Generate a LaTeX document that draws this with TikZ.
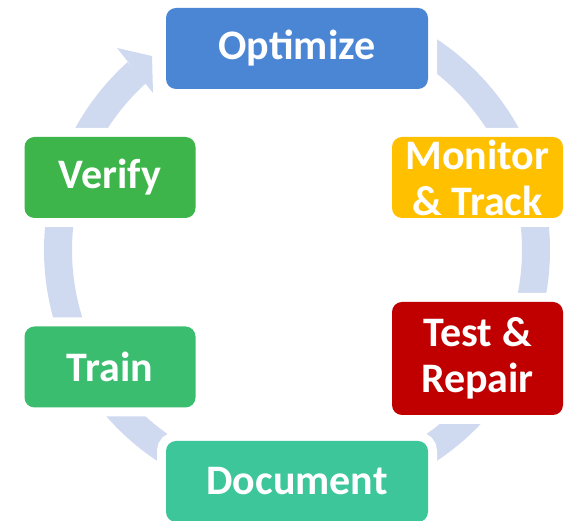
\documentclass[tikz,border=0pt]{standalone}
\usepackage{fontspec}
\setmainfont{Carlito}
\usepackage{tikz}
\definecolor{anneau}{RGB}{207,217,240}
\definecolor{bleu}{RGB}{74,134,212}
\definecolor{jaune}{RGB}{255,192,0}
\definecolor{rouge}{RGB}{192,0,0}
\definecolor{vertA}{RGB}{61,181,74}
\definecolor{vertB}{RGB}{59,189,112}
\definecolor{vertC}{RGB}{60,198,154}
\begin{document}
\begin{tikzpicture}[x=0.75pt,y=0.75pt,
    etape/.style={rounded corners=7.5pt, text=white, align=center, inner sep=0pt,
      font=\bfseries\fontsize{31.5}{34.5}\selectfont,
      preaction={draw=white, line width=13.5pt}},
    large/.style={minimum width=196.5pt, minimum height=60.75pt},
    petite/.style={minimum width=128.25pt, minimum height=60.75pt}]
    \useasboundingbox (0,0) rectangle (565,521);
    % anneau et pointe
    \draw[anneau, line width=21pt] (297,271) ++(132:239) arc(132:440:239);
    \fill[anneau] (117,473) -- (152,465) -- (153,428) -- cycle;
    % etapes
    \node[etape, large, fill=bleu] (optim) at (297,472.5) {Optimize};
    \node[etape, petite, fill=jaune] (suivi) at (477.5,343.5) {Monitor\\\& Track};
    \node[etape, petite, fill=rouge, minimum height=84.75pt] (test) at (477.5,162.5) {Test \&\\Repair};
    \node[etape, large, fill=vertC] (doc) at (297,39.5) {Document};
    \node[etape, petite, fill=vertB] (train) at (110,154) {Train};
    \node[etape, petite, fill=vertA] (verif) at (110,343.5) {Verify};
\end{tikzpicture}
\end{document}
